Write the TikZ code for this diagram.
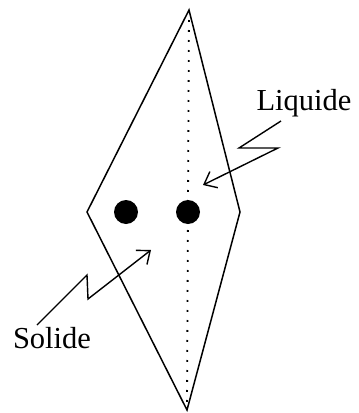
\documentclass[tikz,border=0pt]{standalone}
\usepackage{fontspec}
\setmainfont{Liberation Serif}
\usetikzlibrary{arrows.meta}
\tikzset{
  contour/.style={line width=1.5pt, line join=miter},
  axe/.style={line width=1.8pt, dash pattern=on 1.8pt off 8.2pt},
  point/.style={fill=black, draw=none, circle, minimum size=24pt, inner sep=0pt},
  fleche/.style={line width=1.4pt, -{Straight Barb[length=11pt, width=18pt, line width=1.4pt]}},
  etiquette/.style={font=\fontsize{30.5}{36}\selectfont, inner sep=0pt, anchor=base}
}
\begin{document}
\begin{tikzpicture}[x=1pt, y=-1pt]
        \useasboundingbox (0,0) rectangle (359,413);
        % Sommets du losange
        \coordinate (haut) at (189,10);
        \coordinate (gauche) at (87,212);
        \coordinate (droite) at (240,212);
        \coordinate (bas) at (187,410);
        % Contour
        \draw[contour] (haut) -- (droite) -- (bas) -- (gauche) -- cycle;
        % Axe en pointille
        \draw[axe] (haut) -- (bas);
        % Les deux points
        \node[point] (p1) at (126,212) {};
        \node[point] (p2) at (188,212) {};
        % Etiquettes
        \node[etiquette] (liq) at (304,110) {Liquide};
        \node[etiquette] (sol) at (52,348) {Solide};
        % Fleche du liquide
        \coordinate (l0) at (281,121);
        \coordinate (l1) at (239,148);
        \coordinate (l2) at (278,148);
        \coordinate (lt) at (203,185);
        \draw[fleche] (l0) -- (l1) -- (l2) -- (lt);
        % Fleche du solide
        \coordinate (s0) at (37,325);
        \coordinate (s1) at (87,275);
        \coordinate (s2) at (88,299);
        \coordinate (st) at (151,250);
        \draw[fleche] (s0) -- (s1) -- (s2) -- (st);
\end{tikzpicture}
\end{document}
